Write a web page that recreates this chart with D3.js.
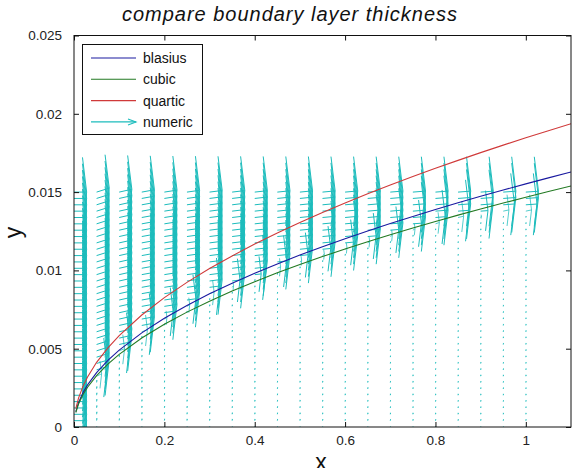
<!DOCTYPE html>
<html>
<head>
<meta charset="utf-8">
<script src="https://cdn.jsdelivr.net/npm/d3@7"></script>
<style>
  body { margin: 0; background: #fff; }
  svg { display: block; font-family: "Liberation Sans", Arial, sans-serif; }
</style>
</head>
<body>
<svg id="chart" width="581" height="468"></svg>
<script>
// ticks
const xTicks = [0, 0.2, 0.4, 0.6, 0.8, 1]
const yTicks = [0, 0.005, 0.01, 0.015, 0.02, 0.025]

// boundary layer thickness curves
const curveX  = [0.004, 0.01, 0.02, 0.03, 0.05, 0.075, 0.1, 0.15, 0.2, 0.25, 0.3, 0.35, 0.4, 0.45, 0.5, 0.55, 0.6, 0.65, 0.7, 0.75, 0.8, 0.85, 0.9, 0.95, 1.0, 1.05, 1.1]
const blasius = [0.000982, 0.001553, 0.002196, 0.002689, 0.003472, 0.004252, 0.00491, 0.006013, 0.006944, 0.007763, 0.008504, 0.009186, 0.00982, 0.010416, 0.010979, 0.011515, 0.012027, 0.012518, 0.012991, 0.013447, 0.013887, 0.014315, 0.01473, 0.015134, 0.015527, 0.01591, 0.016285]
const cubic   = [0.000928, 0.001467, 0.002075, 0.002541, 0.003281, 0.004018, 0.00464, 0.005683, 0.006562, 0.007336, 0.008037, 0.008681, 0.00928, 0.009843, 0.010375, 0.010882, 0.011366, 0.01183, 0.012277, 0.012707, 0.013124, 0.013528, 0.01392, 0.014301, 0.014673, 0.015035, 0.015389]
const quartic = [0.001168, 0.001847, 0.002612, 0.003199, 0.00413, 0.005058, 0.00584, 0.007152, 0.008259, 0.009234, 0.010115, 0.010925, 0.01168, 0.012388, 0.013059, 0.013696, 0.014305, 0.014889, 0.015451, 0.015993, 0.016518, 0.017027, 0.01752, 0.018, 0.018468, 0.018924, 0.019369]

// numeric velocity field (quiver): grid columns and rows
const gridX = [0, 0.05, 0.1, 0.15, 0.2, 0.25, 0.3, 0.35, 0.4, 0.45, 0.5, 0.55, 0.6, 0.65, 0.7, 0.75, 0.8, 0.85, 0.9, 0.95, 1.0]
const gridY = [0, 0.000405, 0.000811, 0.001216, 0.001622, 0.002027, 0.002432, 0.002838, 0.003243, 0.003649, 0.004054, 0.004459, 0.004865, 0.00527, 0.005676, 0.006081, 0.006486, 0.006892, 0.007297, 0.007703, 0.008108, 0.008514, 0.008919, 0.009324, 0.00973, 0.010135, 0.010541, 0.010946, 0.011351, 0.011757, 0.012162, 0.012568, 0.012973, 0.013378, 0.013784, 0.014189, 0.014595, 0.015]
// per column: lowest height with free-stream u, v of the outer flow, v inside the layer
const edgeY  = [0, 0.0038, 0.0054, 0.0066, 0.0076, 0.0084, 0.0091, 0.0097, 0.0102, 0.0108, 0.0113, 0.0117, 0.0121, 0.0125, 0.0129, 0.0133, 0.0136, 0.0139, 0.0142, 0.0143, 0.0143]
const outerV = [0, 0.0091, 0.0065, 0.0053, 0.0046, 0.0041, 0.0037, 0.0035, 0.0032, 0.003, 0.0029, 0.0027, 0.0026, 0.0025, 0.0024, 0.0023, 0.0023, 0.0022, 0.0021, 0.0021, 0.002]
const innerV = [0, 0.0055, 0.0048, 0.0044, 0.0041, 0.0039, 0.0037, 0.0036, 0.0035, 0.0034, 0.0034, 0.0033, 0.0032, 0.0032, 0.0031, 0.0031, 0.003, 0.0029, 0.0029, 0.0028, 0.0028]
// u across the edge of the layer (height relative to edgeY)
const rampDy = [-0.00085, -0.0004, 0]
const rampU  = [0.02, 0.6, 1]

const svg = d3.select("#chart")
const plotL = 74, plotR = 571, plotT = 35.5, plotB = 427

let x = d3.scaleLinear().domain([0, 1.1]).range([plotL, plotR])
let y = d3.scaleLinear().domain([0, 0.025]).range([plotB, plotT])
let ramp = d3.scaleLinear().domain(rampDy).range(rampU).clamp(true)

const cBlue = "#1a1aa0", cGreen = "#237a23", cRed = "#d03a3a", cCyan = "#1cbcbc"

svg.append("defs").append("clipPath").attr("id", "plotclip")
  .append("rect").attr("x", plotL).attr("y", plotT).attr("width", plotR - plotL).attr("height", plotB - plotT)

// quiver, matlab style arrow heads computed in data units
const scale = 0.028, alpha = 0.33, beta = 0.24
let arrows = []
gridX.forEach((gx, i) => {
  gridY.forEach(gy => {
    let u = 1, v = 0
    if (i > 0) {
      u = ramp(gy - edgeY[i])
      v = u > 0.5 ? outerV[i] * u : (gy > 0 ? innerV[i] : 0)
    }
    arrows.push({x: gx, y: gy, u: u * scale, v: v * scale, inner: u < 0.5})
  })
})

let quiver = svg.append("g").attr("clip-path", "url(#plotclip)")
  .attr("fill", "none").attr("stroke", cCyan).attr("stroke-width", 1)

quiver.selectAll("path").data(arrows.filter(d => d.u > 0 || d.v > 0)).enter().append("path")
  .attr("stroke-opacity", d => d.inner ? 0.75 : 1)
  .attr("d", d => {
    let x1 = d.x + d.u, y1 = d.y + d.v
    let p = d3.path()
    p.moveTo(x(d.x), y(d.y))
    p.lineTo(x(x1), y(y1))
    p.moveTo(x(x1 - alpha * (d.u + beta * d.v)), y(y1 - alpha * (d.v - beta * d.u)))
    p.lineTo(x(x1), y(y1))
    p.lineTo(x(x1 - alpha * (d.u - beta * d.v)), y(y1 - alpha * (d.v + beta * d.u)))
    return p.toString()
  })

// thickness curves
let line = d3.line().x(d => x(d[0])).y(d => y(d[1]))
const series = [
  {name: "blasius", values: blasius, color: cBlue},
  {name: "cubic", values: cubic, color: cGreen},
  {name: "quartic", values: quartic, color: cRed}
]
svg.append("g").attr("clip-path", "url(#plotclip)")
  .selectAll("path").data(series).enter().append("path")
  .attr("fill", "none").attr("stroke", d => d.color).attr("stroke-width", 1.1)
  .attr("d", d => line(curveX.map((cx, k) => [cx, d.values[k]])))

// axes, inward ticks on all four sides
function styleAxis(g) {
  g.select(".domain").remove()
  g.selectAll("line").attr("stroke", "#111")
  g.selectAll("text").attr("fill", "#222").style("font-size", "13.5px")
    .style("font-family", "'Liberation Sans', Arial, sans-serif")
}
svg.append("g").attr("transform", `translate(0,${plotB})`)
  .call(d3.axisBottom(x).tickValues(xTicks).tickFormat(d3.format("")).tickSize(-5).tickPadding(8))
  .call(styleAxis)
svg.append("g").attr("transform", `translate(${plotL},0)`)
  .call(d3.axisLeft(y).tickValues(yTicks).tickFormat(d3.format("")).tickSize(-5).tickPadding(12))
  .call(styleAxis)
svg.append("g").attr("transform", `translate(0,${plotT})`)
  .call(d3.axisTop(x).tickValues(xTicks).tickFormat("").tickSize(-5))
  .call(styleAxis)
svg.append("g").attr("transform", `translate(${plotR},0)`)
  .call(d3.axisRight(y).tickValues(yTicks).tickFormat("").tickSize(-5))
  .call(styleAxis)

svg.append("rect").attr("x", plotL).attr("y", plotT).attr("width", plotR - plotL).attr("height", plotB - plotT)
  .attr("fill", "none").attr("stroke", "#111").attr("stroke-width", 1)

// title and axis labels
svg.append("text").attr("x", 289.5).attr("y", 21).attr("text-anchor", "middle")
  .style("font-style", "italic").style("font-size", "20px").attr("fill", "#111")
  .attr("textLength", 335).attr("lengthAdjust", "spacing")
  .text("compare boundary layer thickness")
svg.append("text").attr("transform", "translate(21,232.5)rotate(-90)").attr("text-anchor", "middle")
  .style("font-size", "23px").attr("fill", "#111").text("y")
svg.append("text").attr("x", 321).attr("y", 470).attr("text-anchor", "middle")
  .style("font-size", "23px").attr("fill", "#111").text("x")

// legend
let legend = svg.append("g")
legend.append("rect").attr("x", 82.5).attr("y", 44.5).attr("width", 120).attr("height", 90)
  .attr("fill", "#fff").attr("stroke", "#111").attr("stroke-width", 1)
const legendRows = [
  {name: "blasius", color: cBlue},
  {name: "cubic", color: cGreen},
  {name: "quartic", color: cRed},
  {name: "numeric", color: cCyan, arrow: true}
]
let rows = legend.selectAll("g.row").data(legendRows).enter().append("g")
  .attr("class", "row").attr("transform", (d, i) => `translate(0,${58 + i * 21.3})`)
rows.append("line").attr("x1", 91).attr("x2", 136).attr("stroke", d => d.color).attr("stroke-width", 1.1)
rows.filter(d => d.arrow).append("path").attr("d", "M128,-3L136,0L128,3")
  .attr("fill", "none").attr("stroke", d => d.color).attr("stroke-width", 1.1)
rows.append("text").attr("x", 143).attr("dy", "0.35em").style("font-size", "14px").attr("fill", "#111")
  .text(d => d.name)
</script>
</body>
</html>
